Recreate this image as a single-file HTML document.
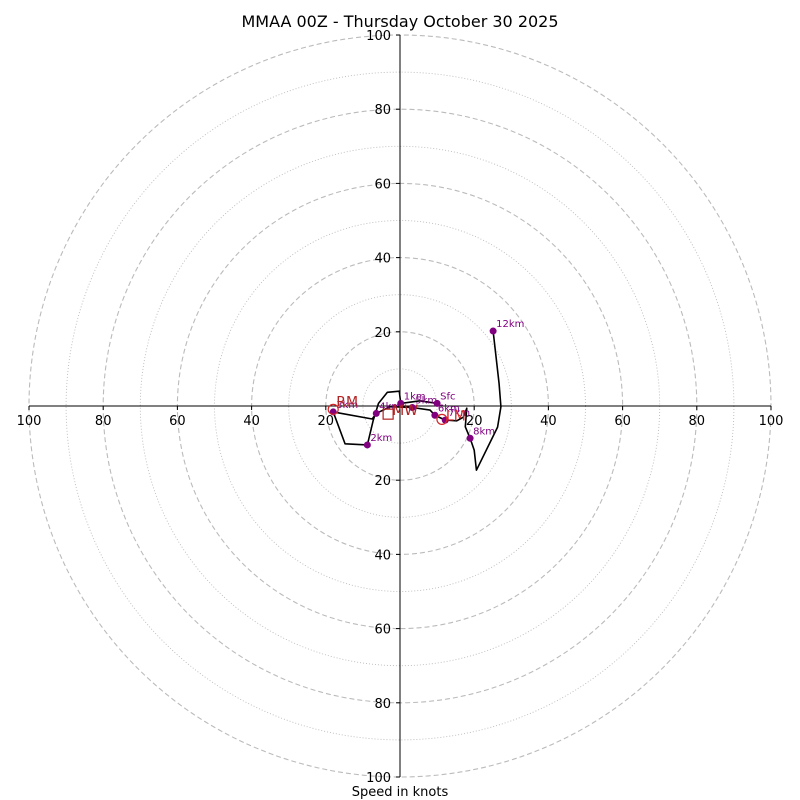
<!DOCTYPE html>
<html><head><meta charset="utf-8"><style>
html,body{margin:0;padding:0;background:#fff}
svg{display:block;font-family:"DejaVu Sans","Liberation Sans",sans-serif}
</style></head><body>
<svg id="chart" width="800" height="800" viewBox="0 0 800 800" xmlns="http://www.w3.org/2000/svg">
<text x="400" y="27" text-anchor="middle" font-size="16">MMAA 00Z - Thursday October 30 2025</text>
<g id="grid"></g>
<g id="axes"></g>
<g id="series"></g>
<text x="400" y="796" text-anchor="middle" font-size="13">Speed in knots</text>
</svg>
<script>
const ringValues = [10,20,30,40,50,60,70,80,90,100];
const tickLabels = [20,40,60,80,100];
const hodoU = [10.0,5.4,0.2,-0.2,-3.4,-5.8,-7.2,-8.8,-14.8,-18.0,-7.5,-6.4,-2.7,3.3,8.1,9.4,12.2,15.3,17.1,18.0,17.6,18.9,20.0,20.6,26.3,27.2,26.7,25.1];
const hodoV = [0.7,1.4,0.7,4.0,3.7,0.7,-3.8,-10.5,-10.2,-1.6,-3.5,-2.0,-0.2,-0.4,-1.1,-2.5,-3.8,-4.0,-3.0,-0.6,-5.6,-8.7,-11.9,-17.3,-5.7,-0.2,6.1,20.2];
const levelNames = ["Sfc","1km","2km","3km","4km","5km","6km","7km","8km","12km"];
const levelU = [10.0,0.2,-8.8,-18.0,-6.4,3.3,9.4,12.2,18.9,25.1];
const levelV = [0.7,0.7,-10.5,-1.6,-2.0,-0.4,-2.5,-3.8,-8.7,20.2];
const stormNames = ["RM","LM","MW"];
const stormU = [-18.0,11.3,-3.2];
const stormV = [-0.9,-3.6,-2.2];

const NS="http://www.w3.org/2000/svg";
const cx=400, cy=406, k=3.71;
const sx=u=>cx+u*k, sy=v=>cy-v*k;
function mk(tag,attrs,parent){const e=document.createElementNS(NS,tag);for(const a in attrs)e.setAttribute(a,attrs[a]);parent.appendChild(e);return e;}
const grid=document.getElementById('grid'),axes=document.getElementById('axes'),ser=document.getElementById('series');
ringValues.forEach(r=>{
  const c=mk('circle',{cx:cx,cy:cy,r:r*k,fill:'none',stroke:'#bbb','stroke-width':r%20===0?1.1:0.9,'stroke-dasharray':r%20===0?'5,3':'1,2'},grid);
  
  
});
mk('line',{x1:sx(-100),y1:cy,x2:sx(100),y2:cy,stroke:'#000','stroke-width':1},axes);
mk('line',{x1:cx,y1:sy(100),x2:cx,y2:sy(-100),stroke:'#000','stroke-width':1},axes);
tickLabels.forEach(t=>{
  [-1,1].forEach(s=>{
    mk('line',{x1:sx(s*t),y1:cy,x2:sx(s*t),y2:cy+4,stroke:'#000'},axes);
    const tx=mk('text',{x:sx(s*t),y:cy+19,'text-anchor':'middle','font-size':13},axes);tx.textContent=t;
    
    
    mk('line',{x1:cx-4,y1:sy(s*t),x2:cx,y2:sy(s*t),stroke:'#000'},axes);
    const ty=mk('text',{x:cx-9,y:sy(s*t)+5,'text-anchor':'end','font-size':13},axes);ty.textContent=t;
    
    
  });
});
const pts=hodoU.map((u,i)=>sx(u)+','+sy(hodoV[i])).join(' ');
const pl=mk('polyline',{points:pts,fill:'none',stroke:'#000','stroke-width':1.6,'stroke-linejoin':'round'},ser);


levelNames.forEach((n,i)=>{
  const c=mk('circle',{cx:sx(levelU[i]),cy:sy(levelV[i]),r:3.5,fill:'#800080'},ser);
  
  
  const t=mk('text',{x:sx(levelU[i])+3,y:sy(levelV[i])-4,'font-size':10,fill:'#800080'},ser);t.textContent=n;
  
  
});
stormNames.forEach((n,i)=>{
  const x=sx(stormU[i]),y=sy(stormV[i]);
  let m;
  if(n==='MW'){m=mk('rect',{x:x-5,y:y-5,width:10,height:10,fill:'none',stroke:'#b22222','stroke-width':1.2},ser);}
  else{m=mk('circle',{cx:x,cy:y,r:5,fill:'none',stroke:'#d62728','stroke-width':1.2},ser);}
  
  
  const t=mk('text',{x:n==='RM'?x+3:x+4,y:n==='RM'?y-3:y+1,'font-size':14,fill:n==='LM'?'#d62728':'#b22222'},ser);t.textContent=n;
  
  
});
</script>
</body></html>
